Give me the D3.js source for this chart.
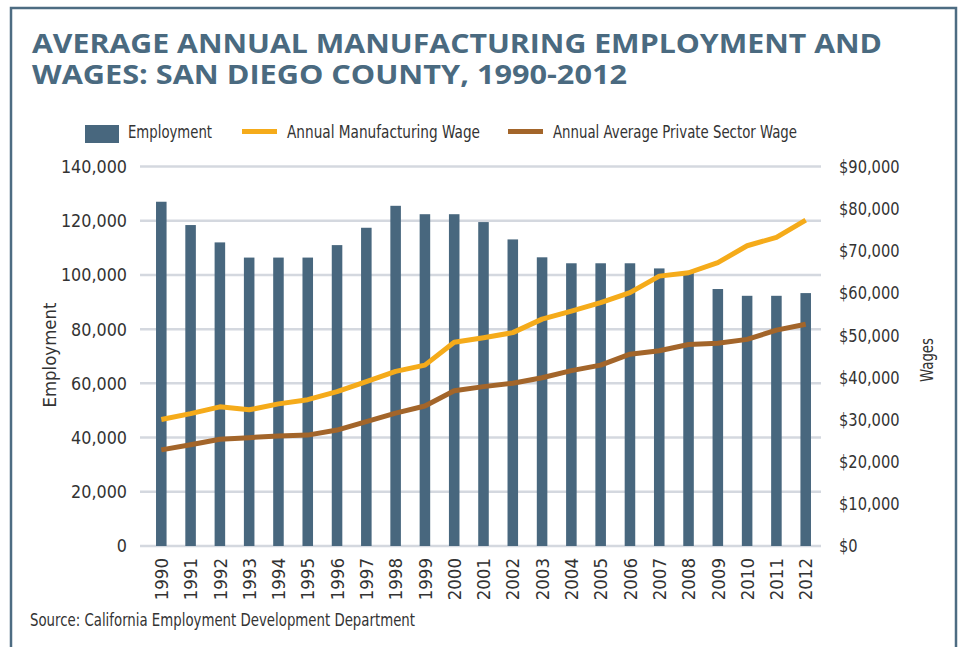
<!DOCTYPE html>
<html>
<head>
<meta charset="utf-8">
<script src="https://cdn.jsdelivr.net/npm/d3@7"></script>
<style>
  html, body { margin: 0; padding: 0; background: #ffffff; }
  svg { display: block; }
  .lbl { font-family: "Liberation Sans Narrow", "DejaVu Sans Condensed", "Roboto", sans-serif; fill: #333333; }
  .title { font-family: "Open Sans", "Noto Sans", sans-serif; font-weight: 700; fill: #4a6a80; }
</style>
</head>
<body>
<svg id="chart" width="959" height="647"></svg>
<script>
// ---- Data ----
const years = ["1990","1991","1992","1993","1994","1995","1996","1997","1998","1999","2000","2001","2002","2003","2004","2005","2006","2007","2008","2009","2010","2011","2012"];
const employment = [127000,118400,112000,106400,106400,106400,111000,117400,125500,122400,122400,119500,113100,106500,104300,104300,104300,102400,101000,94800,92300,92300,93300];
const manufacturingWage = [30000,31400,33000,32300,33700,34700,36600,39000,41400,42900,48300,49400,50600,53800,55700,57700,60100,64000,64800,67200,71200,73200,77300];
const privateWage = [22800,24000,25300,25700,26100,26300,27500,29500,31500,33200,36800,37800,38600,39900,41600,42900,45500,46300,47800,48100,49000,51200,52600];
const leftTicks = [0,20000,40000,60000,80000,100000,120000,140000];
const rightTicks = [0,10000,20000,30000,40000,50000,60000,70000,80000,90000];
const titleLines = ["AVERAGE ANNUAL MANUFACTURING EMPLOYMENT AND", "WAGES: SAN DIEGO COUNTY, 1990-2012"];
const legendItems = ["Employment", "Annual Manufacturing Wage", "Annual Average Private Sector Wage"];
const sourceText = "Source: California Employment Development Department";

const colors = { bar: "#48677e", mfg: "#f5ab1a", priv: "#a3652a", grid: "#d4d8df", frame: "#4d6c82" };

const svg = d3.select("#chart");

// frame
svg.append("path")
  .attr("d", "M11,647V8H956V647")
  .attr("fill", "none").attr("stroke", colors.frame).attr("stroke-width", 2.5);

// title
const tWidths = [850, 595];
titleLines.forEach((t, i) => {
  svg.append("text").attr("class", "title")
    .attr("x", 32).attr("y", 53 + i * 31)
    .attr("font-size", 26.5)
    .attr("textLength", tWidths[i]).attr("lengthAdjust", "spacingAndGlyphs")
    .text(t);
});

// scales
const x = d3.scaleBand().domain(years).range([146.65, 820.35]).paddingInner(0.64).paddingOuter(0.32);
const yL = d3.scaleLinear().domain([0, 140000]).range([546, 166.5]);
const yR = d3.scaleLinear().domain([0, 90000]).range([546, 166.5]);

// gridlines
svg.append("g").selectAll("line").data(leftTicks).join("line")
  .attr("x1", 140).attr("x2", 821)
  .attr("y1", d => yL(d)).attr("y2", d => yL(d))
  .attr("stroke", colors.grid).attr("stroke-width", 2.5);

// narrow a text to a fraction of its natural width
function narrow(sel, f) {
  sel.each(function() {
    const w = this.getComputedTextLength();
    d3.select(this).attr("textLength", w * f).attr("lengthAdjust", "spacingAndGlyphs");
  });
}

// left axis
const gL = svg.append("g").attr("transform", "translate(127,0)")
  .call(d3.axisLeft(yL).tickValues(leftTicks).tickSize(0).tickPadding(0).tickFormat(d3.format(",")));
gL.select(".domain").remove();
gL.selectAll("text").attr("class", "lbl").attr("font-size", 18.5).attr("fill", "#333").call(narrow, 0.96);

// right axis
const gR = svg.append("g").attr("transform", "translate(839,0)")
  .call(d3.axisRight(yR).tickValues(rightTicks).tickSize(0).tickPadding(0).tickFormat(d3.format("$,")));
gR.select(".domain").remove();
gR.selectAll("text").attr("class", "lbl").attr("font-size", 18.5).attr("fill", "#333").call(narrow, 0.88);

// bars
svg.append("g").selectAll("rect").data(years).join("rect")
  .attr("x", d => x(d)).attr("width", x.bandwidth())
  .attr("y", (d, i) => yL(employment[i]))
  .attr("height", (d, i) => yL(0) - yL(employment[i]))
  .attr("fill", colors.bar);

// lines
const cx = d => x(d) + x.bandwidth() / 2;
const lineGen = arr => d3.line().x((d) => cx(d)).y((d, i) => yR(arr[i]));
svg.append("path").datum(years).attr("d", lineGen(privateWage))
  .attr("fill", "none").attr("stroke", colors.priv).attr("stroke-width", 5).attr("stroke-linejoin", "round");
svg.append("path").datum(years).attr("d", lineGen(manufacturingWage))
  .attr("fill", "none").attr("stroke", colors.mfg).attr("stroke-width", 5).attr("stroke-linejoin", "round");

// x labels
const gX = svg.append("g").attr("transform", "translate(0,558)")
  .call(d3.axisBottom(x).tickSize(0).tickPadding(0));
gX.select(".domain").remove();
gX.selectAll("text").attr("class", "lbl").attr("font-size", 18.5).attr("fill", "#333")
  .attr("transform", "rotate(-90)").attr("text-anchor", "end")
  .attr("x", 0).attr("y", 0).attr("dy", "0.36em");

// axis titles
svg.append("text").attr("class", "lbl").attr("font-size", 17)
  .attr("transform", "translate(50,355) rotate(-90)").attr("text-anchor", "middle").attr("dy", "0.35em")
  .attr("textLength", 105).attr("lengthAdjust", "spacingAndGlyphs")
  .text("Employment");
svg.append("text").attr("class", "lbl").attr("font-size", 17)
  .attr("transform", "translate(927,360) rotate(-90)").attr("text-anchor", "middle").attr("dy", "0.35em")
  .attr("textLength", 44).attr("lengthAdjust", "spacingAndGlyphs")
  .text("Wages");

// legend
const lg = svg.append("g");
lg.append("rect").attr("x", 85).attr("y", 125).attr("width", 34).attr("height", 18).attr("fill", colors.bar);
lg.append("line").attr("x1", 242).attr("x2", 277).attr("y1", 131.5).attr("y2", 131.5).attr("stroke", colors.mfg).attr("stroke-width", 5);
lg.append("line").attr("x1", 508).attr("x2", 543).attr("y1", 131.5).attr("y2", 131.5).attr("stroke", colors.priv).attr("stroke-width", 5);
const legX = [128, 287, 553];
const legW = [84, 193, 244];
legendItems.forEach((t, i) => {
  lg.append("text").attr("class", "lbl").attr("font-size", 18)
    .attr("x", legX[i]).attr("y", 138)
    .attr("textLength", legW[i]).attr("lengthAdjust", "spacingAndGlyphs")
    .text(t);
});

// source
svg.append("text").attr("class", "lbl").attr("font-size", 18)
  .attr("x", 30).attr("y", 626)
  .attr("textLength", 385).attr("lengthAdjust", "spacingAndGlyphs")
  .text(sourceText);
</script>
</body>
</html>
